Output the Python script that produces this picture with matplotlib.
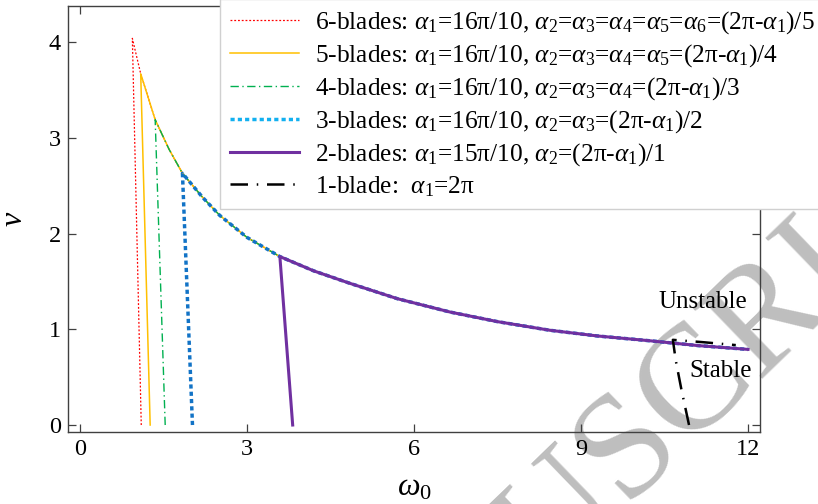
import matplotlib
matplotlib.use("Agg")
from matplotlib import pyplot as plt
from matplotlib.lines import Line2D

plt.rcParams['font.family'] = ['Liberation Serif', 'DejaVu Serif']
plt.rcParams['mathtext.fontset'] = 'custom'
plt.rcParams['mathtext.rm'] = 'Liberation Serif'
plt.rcParams['mathtext.it'] = 'Liberation Serif:italic'

# shared stability boundary
omega_curve = [0.94, 1.09, 1.35, 1.6, 1.84, 2.2, 2.51, 3.0, 3.59, 4.2, 4.85,
               5.7, 6.65, 7.5, 8.44, 9.3, 10.24, 11.1, 12.0]
nu_curve = [4.04, 3.67, 3.19, 2.88, 2.63, 2.38, 2.19, 1.96, 1.76, 1.61, 1.48,
            1.32, 1.18, 1.08, 0.99, 0.93, 0.88, 0.83, 0.79]

# where each multi-blade branch leaves the curve and where it hits nu=0
start_idx = [0, 1, 2, 4, 8]
omega_drop = [1.10, 1.26, 1.53, 2.02, 3.82]

# 1-blade boundary
omega_one = [10.94, 10.80, 10.70, 10.65, 11.2, 11.78]
nu_one = [0.0, 0.38, 0.68, 0.89, 0.865, 0.835]

labels = [
    r'6-blades: $\alpha_1$=16π/10, $\alpha_2$=$\alpha_3$=$\alpha_4$=$\alpha_5$=$\alpha_6$=(2π-$\alpha_1$)/5',
    r'5-blades: $\alpha_1$=16π/10, $\alpha_2$=$\alpha_3$=$\alpha_4$=$\alpha_5$=(2π-$\alpha_1$)/4',
    r'4-blades: $\alpha_1$=16π/10, $\alpha_2$=$\alpha_3$=$\alpha_4$=(2π-$\alpha_1$)/3',
    r'3-blades: $\alpha_1$=16π/10, $\alpha_2$=$\alpha_3$=(2π-$\alpha_1$)/2',
    r'2-blades: $\alpha_1$=15π/10, $\alpha_2$=(2π-$\alpha_1$)/1',
    r'1-blade:  $\alpha_1$=2π',
]

styles = [
    dict(color='#ff0000', lw=0.9, dashes=(1.5, 1.5)),
    dict(color='#ffc000', lw=1.1, ls='-'),
    dict(color='#00b050', lw=1.0, dashes=(6, 2.5, 1, 2.5)),
    dict(color='#1273c6', lw=2.5, dashes=(1.2, 0.9)),
    dict(color='#7030a0', lw=2.2, ls='-'),
]
legend_colors = ['#ff0000', '#ffc000', '#00b050', '#12b0f0', '#7030a0']

fig = plt.figure(figsize=(8.18, 5.04), dpi=100)
ax = fig.add_axes([68/818, 72/504, 692/818, 426/504])
ax.patch.set_alpha(0)

handles = []
for i in range(5):
    k = start_idx[i]
    xs = [omega_drop[i]] + omega_curve[k:]
    ys = [0.0] + nu_curve[k:]
    ax.plot(xs, ys, **styles[i])
    st = dict(styles[i])
    st['color'] = legend_colors[i]
    handles.append(Line2D([], [], **st))

ax.plot(omega_one, nu_one, color='k', lw=1.8, dashes=(7, 3.5, 0.6, 3.5))
handles.append(Line2D([], [], color='k', lw=1.8, dashes=(7, 3.5, 0.6, 3.5)))

ax.text(11.19, 1.285, 'Unstable', fontsize=18, ha='center', va='center')
ax.text(11.51, 0.56, 'Stable', fontsize=18, ha='center', va='center')

ax.set_xlim(-0.216, 12.215)
ax.set_ylim(-0.073, 4.378)
ax.set_xticks([0, 3, 6, 9, 12])
ax.set_yticks([0, 1, 2, 3, 4])
ax.tick_params(direction='in', top=True, right=True, length=6, width=0.9,
               labelsize=17.5, color='#404040', pad=5)
for s in ax.spines.values():
    s.set_color('#404040')
    s.set_linewidth(1.0)
ax.set_xlabel(r'$\omega_0$', fontsize=23, labelpad=10)
ax.set_ylabel(r'$\nu$', fontsize=23, labelpad=14)

leg = fig.legend(handles, labels, loc='upper left', bbox_to_anchor=(220/818, 1.0015),
                 fontsize=18.25, handlelength=2.73, handletextpad=0.63, labelspacing=0.24,
                 borderpad=0.4, borderaxespad=0, fancybox=False, framealpha=1,
                 edgecolor='#d0d0d0')
leg.get_frame().set_linewidth(1.0)

# watermark
fig.text(0.40, -0.485, 'ACCEPTED MANUSCRIPT', fontsize=108, color='#bebebe',
         rotation=44, rotation_mode='anchor', ha='center', va='center', zorder=-1)

fig.savefig('out.png', dpi=100)
